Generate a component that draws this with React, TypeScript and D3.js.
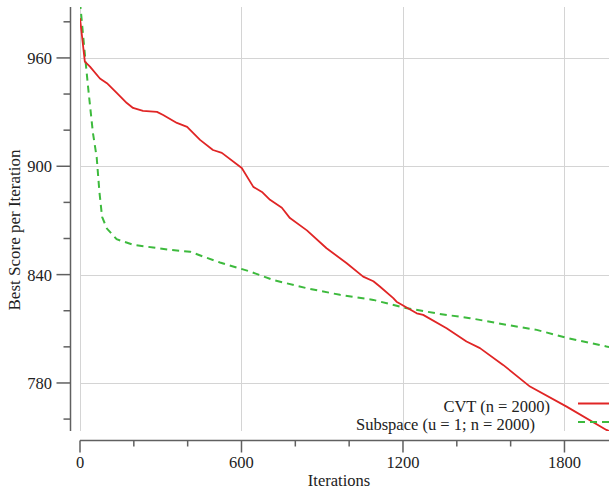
import React from "react";
import * as d3 from "d3";

// Best score per iteration
const cvtIter = [0, 18, 37, 74, 100, 141, 174, 197, 234, 286, 309, 360, 398, 446, 494, 527, 601, 644, 676, 706, 750, 780, 843, 916, 991, 1052, 1090, 1114, 1164, 1176, 1251, 1275, 1362, 1436, 1486, 1572, 1672, 1808, 1956, 2000];
const cvtScore = [982, 958, 955.2, 948.6, 946, 940, 935, 932.3, 930.7, 930.1, 928.4, 924, 921.8, 914.6, 909, 907.4, 899, 888.6, 885.8, 881.4, 877, 871.3, 864.5, 854.6, 846.3, 838.9, 836.3, 833.4, 827, 825, 818.6, 817.7, 810.3, 803, 799.3, 790, 778, 766.9, 754, 751];

const subIter = [0, 20, 32, 48, 62, 72, 82, 100, 136, 198, 272, 334, 409, 458, 520, 632, 718, 842, 966, 1090, 1201, 1337, 1449, 1585, 1697, 1808, 1956, 2000];
const subScore = [991, 959, 941, 918.5, 905, 886, 872, 865.5, 859.6, 856.5, 855, 853.7, 852.7, 850, 846.7, 841.7, 837, 832.5, 828.8, 826, 821.8, 818.2, 815.9, 812.2, 809.4, 805, 800.2, 799];

const xMajor = [0, 600, 1200, 1800];
const xMinor = [200, 400, 800, 1000, 1400, 1600];
const yMajor = [780, 840, 900, 960];
const yMinor = [760, 800, 820, 860, 880, 920, 940, 980];

const legendLabels = ["CVT (n = 2000)", "Subspace (u = 1; n = 2000)"];

const W = 609;
const H = 489;
const FONT = "'Liberation Serif', 'Times New Roman', serif";

export default function App() {
  const x = d3.scaleLinear().domain([0, 2000]).range([80, 618.3]);
  const y = d3.scaleLinear().domain([753.4, 988.2]).range([431, 7]);

  const plotTop = 7;
  const plotBottom = 431;
  const plotLeft = 80;
  const yAxisX = 70.5;
  const xAxisY = 440.5;

  const line = d3
    .line<[number, number]>()
    .x(d => x(d[0]))
    .y(d => y(d[1]));

  const cvtPath = line(cvtIter.map((it, i) => [it, cvtScore[i]]) as [number, number][]) || "";
  const subPath = line(subIter.map((it, i) => [it, subScore[i]]) as [number, number][]) || "";

  const red = "#e02525";
  const green = "#3dba3d";
  const axisColor = "#606060";
  const gridColor = "#d4d4d4";

  return (
    <svg
      width={W}
      height={H}
      style={{ position: "absolute", left: 0, top: 0, background: "#fff" }}
      fontFamily={FONT}
    >
      <defs>
        <clipPath id="plot-clip">
          <rect x={plotLeft} y={plotTop} width={W - plotLeft} height={plotBottom - plotTop} />
        </clipPath>
      </defs>

      {/* grid */}
      {xMajor.map(t => (
        <line key={"gx" + t} x1={Math.round(x(t)) + 0.5} x2={Math.round(x(t)) + 0.5} y1={plotTop} y2={plotBottom} stroke={gridColor} strokeWidth={1} />
      ))}
      {yMajor.map(t => (
        <line key={"gy" + t} x1={plotLeft} x2={W} y1={Math.round(y(t)) + 0.5} y2={Math.round(y(t)) + 0.5} stroke={gridColor} strokeWidth={1} />
      ))}

      {/* y axis */}
      <line x1={yAxisX} x2={yAxisX} y1={plotTop} y2={plotBottom} stroke={axisColor} strokeWidth={1.5} />
      {yMajor.map(t => (
        <g key={"yt" + t}>
          <line x1={yAxisX - 14} x2={yAxisX} y1={y(t)} y2={y(t)} stroke={axisColor} strokeWidth={1.5} />
          <text x={52} y={y(t) + 6} textAnchor="end" fontSize={16.5} fill="#222">{t}</text>
        </g>
      ))}
      {yMinor.map(t => (
        <line key={"ym" + t} x1={yAxisX - 7} x2={yAxisX} y1={y(t)} y2={y(t)} stroke={axisColor} strokeWidth={1.5} />
      ))}

      {/* x axis */}
      <line x1={plotLeft} x2={W} y1={xAxisY} y2={xAxisY} stroke={axisColor} strokeWidth={1.5} />
      {xMajor.map(t => (
        <g key={"xt" + t}>
          <line x1={x(t)} x2={x(t)} y1={xAxisY} y2={xAxisY + 12} stroke={axisColor} strokeWidth={1.5} />
          <text x={x(t)} y={468} textAnchor="middle" fontSize={16.5} fill="#222">{t}</text>
        </g>
      ))}
      {xMinor.map(t => (
        <line key={"xm" + t} x1={x(t)} x2={x(t)} y1={xAxisY} y2={xAxisY + 6} stroke={axisColor} strokeWidth={1.5} />
      ))}

      {/* axis titles */}
      <text x={339} y={485.5} textAnchor="middle" fontSize={16.5} fill="#222">Iterations</text>
      <text transform={`translate(20,230) rotate(-90)`} textAnchor="middle" fontSize={17} fill="#222">
        Best Score per Iteration
      </text>

      {/* series */}
      <g clipPath="url(#plot-clip)">
        <path d={subPath} fill="none" stroke={green} strokeWidth={2} strokeDasharray="7,5" />
        <path d={cvtPath} fill="none" stroke={red} strokeWidth={1.8} strokeLinejoin="round" />
      </g>

      {/* legend */}
      <text x={550} y={411.5} textAnchor="end" fontSize={16.5} fill="#222">{legendLabels[0]}</text>
      <line x1={578} x2={W} y1={403.5} y2={403.5} stroke={red} strokeWidth={2} />
      <text x={535} y={429.5} textAnchor="end" fontSize={16.5} fill="#222">{legendLabels[1]}</text>
      <line x1={578} x2={W} y1={422} y2={422} stroke={green} strokeWidth={2} strokeDasharray="7,5" />
    </svg>
  );
}
